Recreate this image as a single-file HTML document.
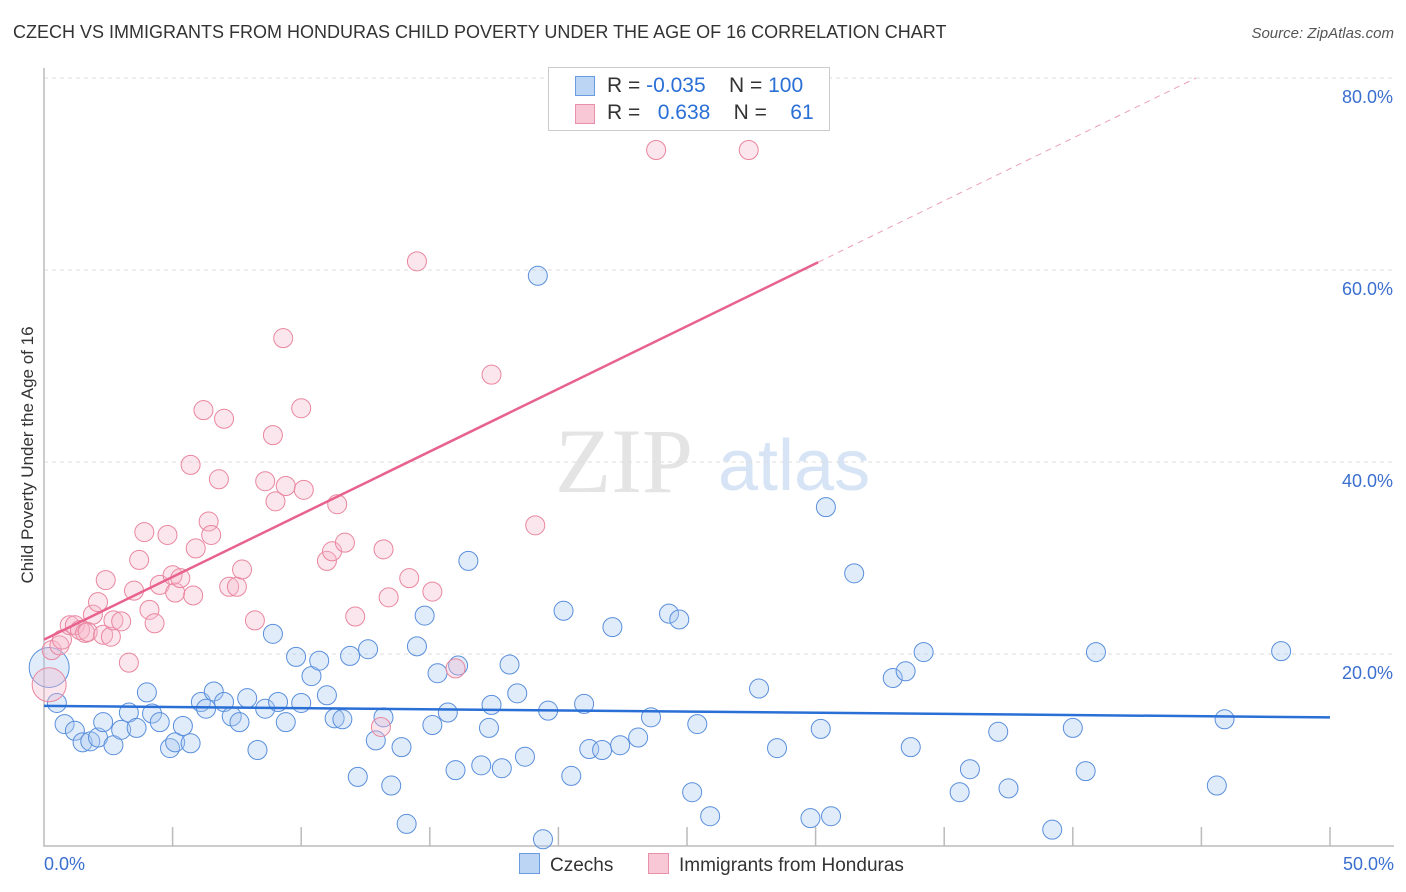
<!DOCTYPE html>
<html><head><meta charset="utf-8">
<style>
body{margin:0;background:#fff;font-family:"Liberation Sans",sans-serif;}
#wrap{position:relative;width:1406px;height:892px;overflow:hidden;}
.t{position:absolute;white-space:nowrap;}
</style></head>
<body>
<div id="wrap">
<div class="t" style="left:13px;top:22px;font-size:18px;color:#333;">CZECH VS IMMIGRANTS FROM HONDURAS CHILD POVERTY UNDER THE AGE OF 16 CORRELATION CHART</div>
<div class="t" style="right:12px;top:25px;font-size:15px;color:#555;font-style:italic;">Source: ZipAtlas.com</div>
<div class="t" style="left:28px;top:455px;font-size:17px;color:#333;transform:translate(-50%,-50%) rotate(-90deg);">Child Poverty Under the Age of 16</div>
<svg id="svg" width="1406" height="892" style="position:absolute;left:0;top:0"></svg>
</div>
<script>
const blueX=[0.5,0.8,1.2,1.5,1.8,2.1,2.3,2.7,3.0,3.3,3.6,4.0,4.2,4.5,4.9,5.1,5.4,5.7,6.1,6.3,6.6,7.0,7.3,7.6,7.9,8.3,8.6,8.9,9.1,9.4,9.8,10.0,10.4,10.7,11.0,11.3,11.6,11.9,12.2,12.6,12.9,13.2,13.5,13.9,14.1,14.5,14.8,15.1,15.3,15.7,16.0,16.1,16.5,17.0,17.3,17.4,17.8,18.1,18.4,18.7,19.2,19.4,19.6,20.2,20.5,21.0,21.2,21.7,22.1,22.4,23.1,23.6,24.3,24.7,25.2,25.4,25.9,27.8,28.5,29.8,30.2,30.4,30.6,31.5,33.0,33.5,33.7,34.2,35.6,36.0,37.1,37.5,39.2,40.0,40.5,40.9,45.6,45.9,48.1];
const blueY=[14.9,12.7,12.0,10.8,10.9,11.3,12.9,10.5,12.1,13.9,12.3,16.0,13.8,12.9,10.2,10.8,12.5,10.7,15.0,14.3,16.1,15.0,13.5,12.9,15.4,10.0,14.3,22.1,15.0,12.9,19.7,14.9,17.7,19.3,15.7,13.3,13.2,19.8,7.2,20.5,11.0,13.4,6.3,10.3,2.3,20.8,24.0,12.6,18.0,13.9,7.9,18.8,29.7,8.4,12.3,14.7,8.1,18.9,15.9,9.3,59.4,0.7,14.1,24.5,7.3,14.8,10.1,10.0,22.8,10.5,11.3,13.4,24.2,23.6,5.6,12.7,3.1,16.4,10.2,2.9,12.2,35.3,3.1,28.4,17.5,18.2,10.3,20.2,5.6,8.0,11.9,6.0,1.7,12.3,7.8,20.2,6.3,13.2,20.3];
const pinkX=[0.3,0.6,0.7,1.0,1.2,1.4,1.6,1.7,1.9,2.1,2.3,2.4,2.6,2.7,3.0,3.3,3.5,3.7,3.9,4.1,4.3,4.5,4.8,5.0,5.1,5.3,5.7,5.8,5.9,6.2,6.4,6.5,6.8,7.0,7.2,7.5,7.7,8.2,8.6,8.9,9.0,9.3,9.4,10.0,10.1,11.0,11.2,11.4,11.7,12.1,13.1,13.2,13.4,14.2,14.5,15.1,16.0,17.4,19.1,23.8,27.4];
const pinkY=[20.4,20.9,21.5,23.0,23.0,22.5,22.2,22.3,24.1,25.4,22.0,27.7,21.8,23.5,23.4,19.1,26.6,29.8,32.7,24.6,23.2,27.2,32.4,28.2,26.4,27.9,39.7,26.1,31.0,45.4,33.8,32.4,38.2,44.5,27.0,27.0,28.8,23.5,38.0,42.8,35.9,52.9,37.5,45.6,37.1,29.7,30.7,35.6,31.6,23.9,12.4,30.9,25.9,27.9,60.9,26.5,18.5,49.1,33.4,72.5,72.5];
const yTicks=[20,40,60,80];
const yTickLabels=["20.0%","40.0%","60.0%","80.0%"];
const blueTrend=[14.6,13.4];
const pinkTrend=[21.5,1.306];

const X=v=>44+v*25.72, Y=v=>846-v*9.6;
const svg=document.getElementById('svg');
const NS='http://www.w3.org/2000/svg';
function mk(tag,attrs,parent){const e=document.createElementNS(NS,tag);for(const k in attrs)e.setAttribute(k,attrs[k]);(parent||svg).appendChild(e);return e;}
let wm=mk('text',{x:555,y:492,'font-size':92,fill:'#e4e4e4','font-family':'Liberation Serif'});wm.textContent='ZIP';


let wm2=mk('text',{x:718,y:490,'font-size':72,fill:'#d6e4f5','font-family':'Liberation Sans'});wm2.textContent='atlas';


yTicks.forEach((t,i)=>{
 const g=mk('line',{x1:44,x2:1394,y1:Y(t),y2:Y(t),stroke:'#ddd','stroke-dasharray':'4 4'});
 
 
 const l=mk('text',{x:1393,y:Y(t)+25,'text-anchor':'end','font-size':18,fill:'#3a6fd0','font-family':'Liberation Sans'});l.textContent=yTickLabels[i];
 
 
});
const ax=mk('path',{d:'M44 68 V846 H1394',stroke:'#bbb',fill:'none','stroke-width':1.5});


for(let i=1;i<=10;i++){const tk=mk('line',{x1:X(i*5),x2:X(i*5),y1:827,y2:846,stroke:'#bbb','stroke-width':1.5});
 
 }
const x0=mk('text',{x:44,y:870,'font-size':18,fill:'#3a6fd0','font-family':'Liberation Sans'});x0.textContent='0.0%';


const x1=mk('text',{x:1394,y:870,'text-anchor':'end','font-size':18,fill:'#3a6fd0','font-family':'Liberation Sans'});x1.textContent='50.0%';


function dot(x,y,r,c,name){const d=mk('circle',{cx:X(x),cy:Y(y),r:r,fill:c[0],stroke:c[1],'stroke-width':1,'fill-opacity':0.35});
 
 }
const BC=['#a8c8f0','#5a8fdc'],PC=['#f7b8cb','#e9869f'];
dot(0.2,18.6,20,BC,'czech-point-large');
blueX.forEach((x,i)=>dot(x,blueY[i],9.5,BC,'czech-point'));
dot(0.2,16.8,17,PC,'honduras-point-large');
pinkX.forEach((x,i)=>dot(x,pinkY[i],9.5,PC,'honduras-point'));
const bt=mk('line',{x1:X(0),y1:Y(blueTrend[0]),x2:X(50),y2:Y(blueTrend[1]),stroke:'#2a6fd6','stroke-width':2.5});


const xs=30.1,xe=(80-pinkTrend[0])/pinkTrend[1];
const pt=mk('line',{x1:X(0),y1:Y(pinkTrend[0]),x2:X(xs),y2:Y(pinkTrend[0]+pinkTrend[1]*xs),stroke:'#e8628e','stroke-width':2.5});


const pd=mk('line',{x1:X(xs),y1:Y(pinkTrend[0]+pinkTrend[1]*xs),x2:X(xe),y2:Y(80),stroke:'#eaa0b8','stroke-width':1,'stroke-dasharray':'6 5'});


</script>
<div class="t" style="left:548px;top:67px;width:280px;height:62px;border:1px solid #ccc;background:#fff;font-size:21px;color:#333;">
 <div style="position:absolute;left:26px;top:8px;width:18px;height:18px;background:#bcd5f5;border:1px solid #6a9ae0;"></div>
 <div style="position:absolute;left:58px;top:6px;">R = <span style="color:#2a6fd6">-0.035</span>&nbsp;&nbsp;&nbsp; N = <span style="color:#2a6fd6">100</span></div>
 <div style="position:absolute;left:26px;top:36px;width:18px;height:18px;background:#f9c8d7;border:1px solid #e990aa;"></div>
 <div style="position:absolute;left:58px;top:33px;">R = &nbsp; <span style="color:#2a6fd6">0.638</span>&nbsp;&nbsp;&nbsp; N = &nbsp;&nbsp; <span style="color:#2a6fd6">61</span></div>
</div>
<div class="t" style="left:519px;top:853px;font-size:19px;color:#333;"><span style="display:inline-block;width:19px;height:19px;background:#bcd5f5;border:1px solid #6a9ae0;vertical-align:-3px;margin-right:10px;"></span>Czechs</div>
<div class="t" style="left:648px;top:853px;font-size:19px;color:#333;"><span style="display:inline-block;width:19px;height:19px;background:#f9c8d7;border:1px solid #e990aa;vertical-align:-3px;margin-right:10px;"></span>Immigrants from Honduras</div>
</body></html>
